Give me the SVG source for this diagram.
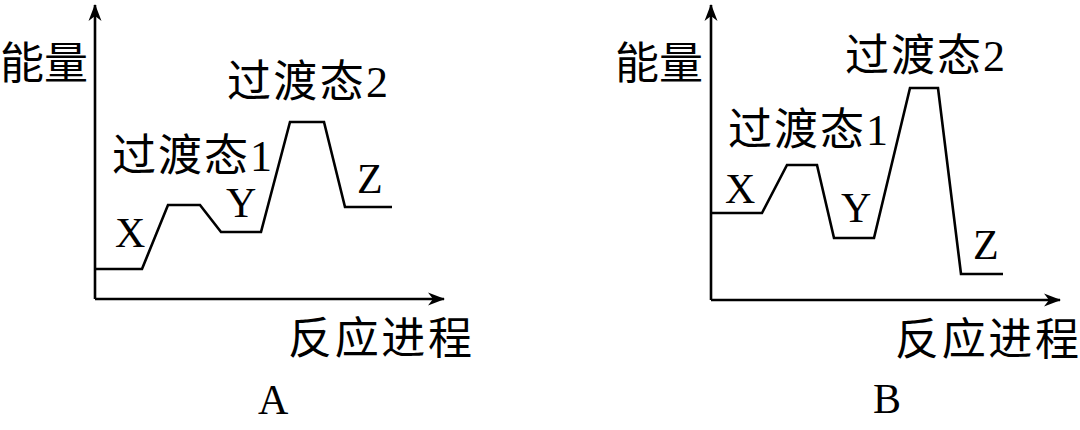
<svg xmlns="http://www.w3.org/2000/svg" width="1080" height="430" viewBox="0 0 1080 430">
  <style>
    .ax { fill: none; stroke: #000; stroke-width: 2.6; }
    .cv { fill: none; stroke: #000; stroke-width: 2.6; stroke-linejoin: miter; }
    .t { font-family: "Liberation Serif", "Noto Sans CJK SC", serif; font-size: 44px; fill: #000; }
    .l { font-family: "Liberation Serif", serif; font-size: 42px; fill: #000; }
  </style>
  <defs>
    <marker id="arr" markerUnits="userSpaceOnUse" markerWidth="20" markerHeight="14" refX="0" refY="0" viewBox="-18 -7 20 14" orient="auto" overflow="visible">
      <path d="M1,0 L-16,-6.5 L-11,0 L-16,6.5 Z" fill="#000"/>
    </marker>
  </defs>
  <rect width="1080" height="430" fill="#fff"/>

  <g id="chartA">
    <g id="axesA">
      <path class="ax" d="M95,299 V5" marker-end="url(#arr)"/>
      <path class="ax" d="M95,299 H444" marker-end="url(#arr)"/>
    </g>
    <path id="curveA" class="cv" d="M95,269 H142 L168,205 H200 L221,232 H261 L290,122 H324 L345,207 H392"/>
    <text class="t" x="0" y="79" textLength="88" lengthAdjust="spacing">能量</text>
    <text class="t" x="227" y="97" textLength="161" lengthAdjust="spacing">过渡态2</text>
    <text class="t" x="112" y="171" textLength="160" lengthAdjust="spacing">过渡态1</text>
    <text class="l" x="115" y="247">X</text>
    <text class="l" x="226" y="217">Y</text>
    <text class="l" x="357" y="193">Z</text>
    <text class="t" x="288" y="354" textLength="184" lengthAdjust="spacing">反应进程</text>
    <text class="l" x="258" y="414">A</text>
  </g>

  <g id="chartB">
    <g id="axesB">
      <path class="ax" d="M711,300 V5" marker-end="url(#arr)"/>
      <path class="ax" d="M711,300 H1060" marker-end="url(#arr)"/>
    </g>
    <path id="curveB" class="cv" d="M711,213 H762 L787,165 H817 L834,238 H874 L910,88 H938 L961,274 H1003"/>
    <text class="t" x="615" y="79" textLength="88" lengthAdjust="spacing">能量</text>
    <text class="t" x="845" y="71" textLength="160" lengthAdjust="spacing">过渡态2</text>
    <text class="t" x="728" y="145" textLength="160" lengthAdjust="spacing">过渡态1</text>
    <text class="l" x="725" y="203">X</text>
    <text class="l" x="841" y="222">Y</text>
    <text class="l" x="973" y="259">Z</text>
    <text class="t" x="895" y="355" textLength="184" lengthAdjust="spacing">反应进程</text>
    <text class="l" x="873" y="413">B</text>
  </g>
</svg>
